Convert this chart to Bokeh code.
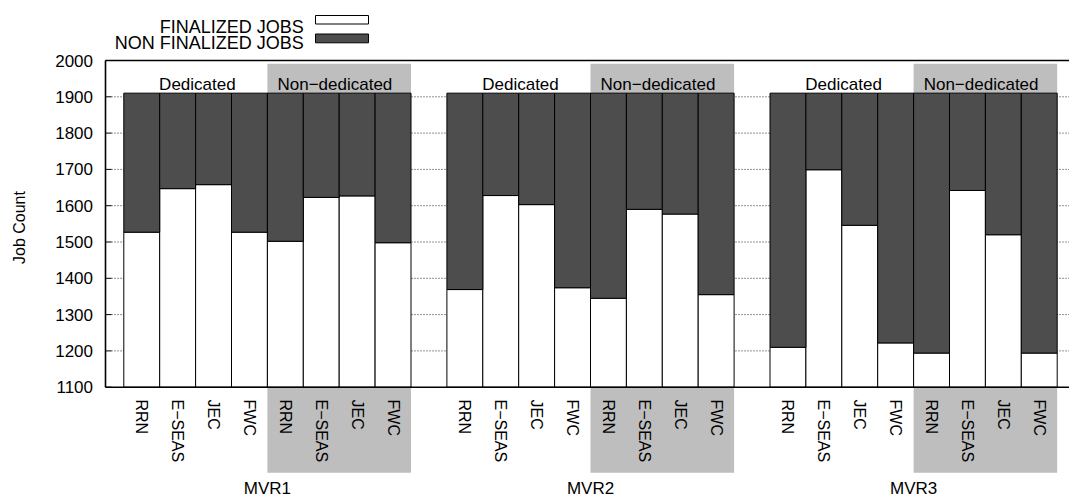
import math
from bokeh.plotting import figure
from bokeh.models import ColumnDataSource
from bokeh.core.properties import value
from bokeh.embed import file_html
from bokeh.resources import INLINE

# ---------------- data ----------------
groups = ["MVR1", "MVR2", "MVR3"]
algorithms = ["RRN", "E\u2212SEAS", "JEC", "FWC", "RRN", "E\u2212SEAS", "JEC", "FWC"]
modes = ["Dedicated", "Non\u2212dedicated"]
series_names = ["FINALIZED JOBS", "NON FINALIZED JOBS"]
y_ticks = [1100, 1200, 1300, 1400, 1500, 1600, 1700, 1800, 1900, 2000]
y_title = "Job Count"

mvr1_finalized = [1527, 1647, 1658, 1527, 1502, 1623, 1627, 1498]
mvr1_non_finalized = [383, 263, 252, 383, 408, 287, 283, 412]
mvr2_finalized = [1369, 1628, 1603, 1374, 1345, 1590, 1577, 1355]
mvr2_non_finalized = [541, 282, 307, 536, 565, 320, 333, 555]
mvr3_finalized = [1210, 1699, 1546, 1222, 1194, 1642, 1520, 1194]
mvr3_non_finalized = [700, 211, 364, 688, 716, 268, 390, 716]

finalized_all = [mvr1_finalized, mvr2_finalized, mvr3_finalized]
non_finalized_all = [mvr1_non_finalized, mvr2_non_finalized, mvr3_non_finalized]

# ---------------- layout helpers ----------------
W, H = 1069, 497
FONT = value("Liberation Sans")
DARK = "#4d4d4d"
GREY = "#bebebe"
X0PX, BW = 123.3, 35.9      # page px of first bar's left edge, bar width px
Y2000, K = 60.0, 0.363      # page px of y=2000, px per unit


def px2x(px):
    return (px - X0PX) / BW


def py2y(py):
    return 2000 - (py - Y2000) / K


Y_MIN, Y_MAX = y_ticks[0], y_ticks[-1]
GROUP_STRIDE = len(algorithms) + 1

p = figure(width=W, height=H,
           x_range=(px2x(0), px2x(W)), y_range=(py2y(H), py2y(0)),
           output_backend="svg", toolbar_location=None,
           x_axis_location=None, y_axis_location=None,
           min_border_left=0, min_border_right=0, min_border_top=0, min_border_bottom=0,
           outline_line_color=None, background_fill_color="white", border_fill_color="white")
p.xgrid.visible = False
p.ygrid.visible = False

xl = px2x(105)
xr = px2x(W) + 1

# grid (dotted) behind bars
inner = y_ticks[1:-1]
p.segment(x0=[px2x(111)] * len(inner), y0=inner, x1=[xr] * len(inner), y1=inner,
          line_color="black", line_width=1, line_dash="1 2", line_alpha=0.85)

# ---------------- bars ----------------
left, right, fin_top, tot_top, cx, labels = [], [], [], [], [], []
for g, name in enumerate(groups):
    for j, alg in enumerate(algorithms):
        l = g * GROUP_STRIDE + j
        left.append(l)
        right.append(l + 1)
        cx.append(l + 0.5)
        labels.append(alg)
        f = finalized_all[g][j]
        n = non_finalized_all[g][j]
        fin_top.append(f)
        tot_top.append(f + n)

src = ColumnDataSource(dict(left=left, right=right, fin=fin_top, tot=tot_top,
                            base=[Y_MIN] * len(left)))

# grey highlight boxes for the non-dedicated half
half = len(algorithms) // 2
gl = [g * GROUP_STRIDE + half for g in range(len(groups))]
gr = [g * GROUP_STRIDE + len(algorithms) for g in range(len(groups))]
top_total = max(tot_top)
p.quad(left=gl, right=gr, bottom=[top_total] * 3, top=[py2y(63.3)] * 3,
       fill_color=GREY, line_color=None)
p.quad(left=gl, right=gr, bottom=[py2y(472.3)] * 3, top=[Y_MIN] * 3,
       fill_color=GREY, line_color=None)

p.quad(left="left", right="right", bottom="base", top="fin", source=src,
       fill_color="white", line_color="black", line_width=1)
p.quad(left="left", right="right", bottom="fin", top="tot", source=src,
       fill_color=DARK, line_color="black", line_width=1)

# frame
p.segment(x0=[xl, xl, xl], y0=[Y_MAX, Y_MIN, Y_MIN], x1=[xr, xr, xl], y1=[Y_MAX, Y_MIN, Y_MAX],
          line_color="black", line_width=1.6)

# y ticks (inward) and labels
p.segment(x0=[xl] * len(y_ticks), y0=y_ticks, x1=[px2x(111)] * len(y_ticks), y1=y_ticks,
          line_color="black", line_width=1)
p.text(x=[px2x(92.5)] * len(y_ticks), y=y_ticks, text=[str(t) for t in y_ticks],
       text_align="right", text_baseline="middle", text_font=FONT,
       text_font_size="17px", text_color="black")

# y title
p.text(x=[px2x(18.5)], y=[py2y(227)], text=[y_title], angle=math.pi / 2,
       text_align="center", text_baseline="middle", text_font=FONT,
       text_font_size="16px", text_color="black")

# category labels (rotated)
p.text(x=cx, y=[py2y(399)] * len(cx), text=labels, angle=-math.pi / 2,
       text_align="left", text_baseline="middle", text_font=FONT,
       text_font_size="16px", text_color="black")

# mode labels
mx, my, mt = [], [], []
for g in range(len(groups)):
    mx += [g * GROUP_STRIDE + 2.05, g * GROUP_STRIDE + 5.88]
    my += [py2y(84.3)] * 2
    mt += modes
p.text(x=mx, y=my, text=mt, text_align="center", text_baseline="alphabetic",
       text_font=FONT, text_font_size="17px", text_color="black")

# group labels
p.text(x=[g * GROUP_STRIDE + 4 for g in range(len(groups))], y=[py2y(488)] * 3, text=groups,
       text_align="center", text_baseline="alphabetic", text_font=FONT,
       text_font_size="17px", text_color="black")

# legend
p.text(x=[px2x(303.3)] * 2, y=[py2y(26), py2y(42.7)], text=series_names,
       text_align="right", text_baseline="alphabetic", text_font=FONT,
       text_font_size="18px", text_color="black")
p.quad(left=[px2x(315)] * 2, right=[px2x(368)] * 2,
       bottom=[py2y(23.5), py2y(42.3)], top=[py2y(15), py2y(33.5)],
       fill_color=["white", DARK], line_color="black", line_width=1)

open("out.html", "w").write(file_html(p, INLINE))
